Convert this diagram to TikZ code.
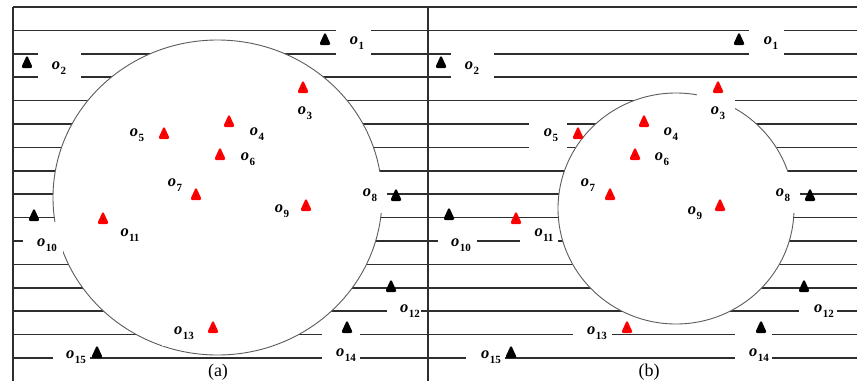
\documentclass[tikz,border=0pt]{standalone}
\usepackage{fontspec}
\newfontfamily\capfont{Liberation Serif}
\newfontfamily\objfont{Liberation Serif}

\definecolor{rulegray}{HTML}{2E2E2E}
\definecolor{ringgray}{HTML}{5C5C5C}
\definecolor{conered}{HTML}{FF0000}

% object name: bold italic o with a small upright index
\newcommand\objlabel[1]{{\bfseries\itshape o}\kern0.3pt\raisebox{-0.27em}{\fontsize{11}{12}\selectfont\bfseries #1}}

\tikzset{
  rule/.style={draw=rulegray, line width=1.5pt},
  frame/.style={draw=rulegray, line width=1.2pt},
  ring/.style={draw=ringgray, fill=white, line width=0.9pt},
  mask/.style={fill=white},
  lab/.style={font=\objfont\fontsize{16.5}{18}\selectfont, inner sep=0pt},
  panelcap/.style={font=\capfont\fontsize{18}{20}\selectfont, inner sep=0pt},
  cone/.pic={\fill[black, rounded corners=2.4pt] (-6,0) -- (0,-13) -- (6,0) -- cycle;},
  hit/.pic={\fill[conered, rounded corners=2.4pt] (-6,0) -- (0,-13) -- (6,0) -- cycle;
            \fill[black] (0,-5) circle (0.6pt);},
}

\begin{document}
\begin{tikzpicture}[x=1pt, y=-1pt]
\useasboundingbox (0,0) rectangle (857,381);
\fill[white] (0,0) rectangle (857,381);

% ruled background shared by both panels
\foreach \k in {0,...,15}
  \draw[rule] (13,{7+23.4*\k}) -- (857,{7+23.4*\k});
\draw[frame] (13,7) -- (13,381);
\draw[frame] (428,7) -- (428,381);

% query regions
\draw[ring] (217.5,197.5) ellipse [x radius=164.5pt, y radius=157.5pt];
\draw[ring] (676,208.5) ellipse [x radius=118pt, y radius=115.5pt];

% white label boxes, panel (a)
\fill[mask] (336,24) rectangle (371,62);
\fill[mask] (38,48) rectangle (81,86);
\fill[mask] (350,172) rectangle (387,213);
\fill[mask] (23,222) rectangle (63,256);
\fill[mask] (387,298) rectangle (421,325);
\fill[mask] (162,318) rectangle (200,346);
\fill[mask] (322,326) rectangle (360,370);
\fill[mask] (53,338) rectangle (90,380);

% white label boxes, panel (b)
\fill[mask] (749,24) rectangle (784,62);
\fill[mask] (451,48) rectangle (494,86);
\fill[mask] (697,90) rectangle (735,126);
\fill[mask] (529,115) rectangle (567,155);
\fill[mask] (763,172) rectangle (800,213);
\fill[mask] (438,222) rectangle (477,256);
\fill[mask] (520,222) rectangle (558,250);
\fill[mask] (799,298) rectangle (837,325);
\fill[mask] (573,318) rectangle (612,346);
\fill[mask] (735,326) rectangle (772,370);
\fill[mask] (466,338) rectangle (505,380);

% objects, panel (a)
\pic at (325,45) {cone};
\pic at (27,68) {cone};
\pic at (303,93) {hit};
\pic at (229,127) {hit};
\pic at (164,139) {hit};
\pic at (220,160) {hit};
\pic at (196,200) {hit};
\pic at (396,201) {cone};
\pic at (306,211) {hit};
\pic at (34,221) {cone};
\pic at (103,224) {hit};
\pic at (391,292) {cone};
\pic at (213,333) {hit};
\pic at (347,333) {cone};
\pic at (97,358) {cone};

% objects, panel (b)
\pic at (739,45) {cone};
\pic at (441,68) {cone};
\pic at (718,93) {hit};
\pic at (644,127) {hit};
\pic at (578,139) {hit};
\pic at (635,160) {hit};
\pic at (610,200) {hit};
\pic at (810,201) {cone};
\pic at (720,211) {hit};
\pic at (449,220) {cone};
\pic at (516,224) {hit};
\pic at (804,292) {cone};
\pic at (627,333) {hit};
\pic at (761,333) {cone};
\pic at (511,358) {cone};

% labels, panel (a)
\node[lab] (a1) at (357,43) {\objlabel{1}};
\node[lab] (a2) at (59,68) {\objlabel{2}};
\node[lab] (a3) at (305,113) {\objlabel{3}};
\node[lab] (a4) at (257,134) {\objlabel{4}};
\node[lab] (a5) at (137,135) {\objlabel{5}};
\node[lab] (a6) at (248,159) {\objlabel{6}};
\node[lab] (a7) at (175,185) {\objlabel{7}};
\node[lab] (a8) at (370,195) {\objlabel{8}};
\node[lab] (a9) at (282,211) {\objlabel{9}};
\node[lab] (a10) at (47,245) {\objlabel{10}};
\node[lab] (a11) at (130,235) {\objlabel{11}};
\node[lab] (a12) at (410,311) {\objlabel{12}};
\node[lab] (a13) at (184,333) {\objlabel{13}};
\node[lab] (a14) at (346,355) {\objlabel{14}};
\node[lab] (a15) at (76,357) {\objlabel{15}};

% labels, panel (b)
\node[lab] (b1) at (771,43) {\objlabel{1}};
\node[lab] (b2) at (472,68) {\objlabel{2}};
\node[lab] (b3) at (718,113) {\objlabel{3}};
\node[lab] (b4) at (671,134) {\objlabel{4}};
\node[lab] (b5) at (551,135) {\objlabel{5}};
\node[lab] (b6) at (662,159) {\objlabel{6}};
\node[lab] (b7) at (588,185) {\objlabel{7}};
\node[lab] (b8) at (783,195) {\objlabel{8}};
\node[lab] (b9) at (695,213) {\objlabel{9}};
\node[lab] (b10) at (461,245) {\objlabel{10}};
\node[lab] (b11) at (544,235) {\objlabel{11}};
\node[lab] (b12) at (824,311) {\objlabel{12}};
\node[lab] (b13) at (597,333) {\objlabel{13}};
\node[lab] (b14) at (759,355) {\objlabel{14}};
\node[lab] (b15) at (491,357) {\objlabel{15}};

% panel captions
\node[panelcap] (capa) at (218,372) {(a)};
\node[panelcap] (capb) at (649,372) {(b)};
\end{tikzpicture}
\end{document}
